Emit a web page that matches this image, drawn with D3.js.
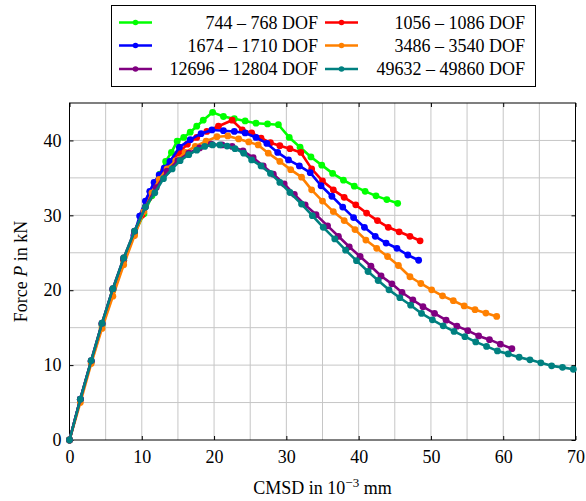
<!DOCTYPE html>
<html>
<head>
<meta charset="utf-8">
<script src="https://cdn.jsdelivr.net/npm/d3@7"></script>
<style>
  body { margin: 0; background: #fff; }
  svg text { font-family: "Liberation Serif", "DejaVu Serif", "Times New Roman", serif; fill: #000; }
</style>
</head>
<body>
<div id="chart"></div>
<script>
// series: [CMSD in 1e-3 mm, force in kN]
const dof744 = [[0,0],[1.5,5.4],[3,10.4],[4.5,15.3],[6,20],[7.5,24],[9,27.6],[10.3,30.2],[11.4,32.6],[12.5,35.5],[13.3,37.2],[14.1,38.4],[14.9,39.9],[15.8,40.4],[16.7,41.1],[17.6,41.9],[18.5,42.7],[19.8,43.75],[21.3,43.2],[22.8,42.9],[24.3,42.6],[25.8,42.3],[27.4,42.2],[28.9,42.1],[30.4,40.4],[31.9,39.1],[33.4,37.8],[34.9,36.7],[36.4,35.6],[37.9,34.7],[39.4,33.9],[40.9,33.2],[42.4,32.6],[43.9,32.1],[45.4,31.6]];
const dof1056 = [[0,0],[1.5,5.45],[3,10.5],[4.5,15.5],[6,20.1],[7.5,24],[9,27.8],[10,30],[11,32.3],[12,34.2],[13,35.9],[14,37.2],[15.1,38.3],[16.3,39.5],[17.6,40.4],[19,41.2],[20.6,41.9],[22.5,42.7],[23.9,41.4],[25.2,41],[26.5,40.3],[27.8,39.7],[29.1,39.3],[30.5,38.9],[32,38.4],[33.5,36.2],[35,34.6],[36.5,33.4],[38,32.4],[39.6,31.4],[41.1,30.3],[42.6,29.3],[44.1,28.4],[45.6,27.8],[47.1,27.2],[48.5,26.6]];
const dof1674 = [[0,0],[1.5,5.45],[3,10.5],[4.5,15.5],[6,20.1],[7.5,24.2],[8.9,27.3],[9.7,29.9],[10.5,31.9],[11.1,33.2],[11.7,34.4],[12.4,35.4],[13.1,36.3],[13.9,37.2],[15.2,39.1],[16.7,40.1],[18.2,40.9],[19.7,41.4],[21.3,41.3],[22.8,41.2],[24.3,41],[25.8,40.4],[27.3,39.6],[28.8,38.4],[30.3,37.4],[31.8,36.6],[33.3,35.7],[34.8,33.95],[36.3,32.55],[37.8,31.1],[39.3,29.7],[40.8,28.4],[42.3,27.2],[43.8,26.3],[45.3,25.6],[46.8,24.7],[48.3,24]];
const dof3486 = [[0,0],[1.5,5],[3,10.2],[4.5,14.9],[6,19.2],[7.5,23.4],[9,27.3],[10.3,30.5],[11.4,33],[12.4,34.8],[13.5,36.2],[14.7,37.3],[16,38.4],[17.4,39.2],[18.9,39.9],[20.4,40.5],[21.9,40.6],[23.4,40.2],[24.8,39.8],[26.1,39.4],[27.5,38.3],[29.1,37.2],[30.6,36.1],[32.1,35.1],[33.5,33.4],[35,31.9],[36.5,30.5],[38,29.3],[39.5,28.1],[41,26.7],[42.5,25.6],[44,24.5],[45.5,23.3],[47.1,21.8],[48.6,20.9],[50.1,20.05],[51.6,19.25],[53.1,18.6],[54.6,17.9],[56.1,17.4],[57.6,16.95],[59.1,16.5]];
const dof12696 = [[0,0],[1.5,5.45],[3,10.6],[4.5,15.6],[6,20.2],[7.5,24.3],[9,27.9],[10.5,31.1],[12,33.7],[13.5,35.9],[15,37.3],[16.5,38.3],[18,39],[19.6,39.5],[21.1,39.4],[22.5,39.2],[24,38.6],[25.4,37.7],[26.8,36.6],[28.2,35.5],[29.7,34.2],[31.1,32.8],[32.6,31.4],[34.1,30.1],[35.7,28.6],[37.2,27.2],[38.7,25.8],[40.2,24.5],[41.7,23.2],[43.1,21.9],[44.6,20.85],[46,19.7],[47.5,18.7],[48.9,17.8],[50.5,16.9],[52.1,16],[53.6,15.2],[55.1,14.6],[56.6,13.9],[58.1,13.4],[59.6,12.8],[61.2,12.2]];
const dof49632 = [[0,0],[1.5,5.45],[3,10.6],[4.5,15.6],[6,20.2],[7.5,24.3],[9,27.9],[10.5,31.1],[11.8,33],[13,34.9],[14.2,36.2],[15.3,37.3],[16.5,38.1],[17.6,38.7],[18.7,39.2],[19.8,39.4],[20.8,39.4],[21.8,39.25],[22.9,38.9],[24.1,38.3],[25.2,37.4],[26.5,36.6],[27.8,35.6],[29.1,34.4],[30.5,33.05],[32.1,31.5],[33.6,29.95],[35.1,28.4],[36.7,26.85],[38.2,25.35],[39.7,23.95],[41.3,22.5],[42.7,21.3],[44.2,20.05],[45.7,19],[47.2,18],[48.7,16.9],[50.2,16.05],[51.7,15.25],[53.2,14.5],[54.7,13.8],[56.2,13.1],[57.7,12.5],[59.2,11.9],[60.7,11.5],[62.2,11.05],[63.7,10.7],[65.2,10.3],[66.7,9.9],[68.2,9.7],[69.7,9.45]];

const seriesLabels = ["744 \u2013 768 DOF", "1056 \u2013 1086 DOF", "1674 \u2013 1710 DOF",
  "3486 \u2013 3540 DOF", "12696 \u2013 12804 DOF", "49632 \u2013 49860 DOF"];
const seriesData = [dof744, dof1056, dof1674, dof3486, dof12696, dof49632];
const colors = ["#00ff00", "#ff0000", "#0000ff", "#ff8000", "#800080", "#008080"];
const xTicks = [0, 10, 20, 30, 40, 50, 60, 70];
const yTicks = [0, 10, 20, 30, 40];

const W = 586, H = 501;
const FONT = "'Liberation Serif', 'DejaVu Serif', serif";
const FS = "18px";
const margin = { top: 103, right: 10.5, bottom: 61, left: 69.5 };
const width = W - margin.left - margin.right,
  height = H - margin.top - margin.bottom;

const svg = d3.select("#chart").append("svg")
  .attr("width", W)
  .attr("height", H)
  .style("font-family", FONT);

const chart = svg.append("g")
  .attr("transform", "translate(" + margin.left + "," + margin.top + ")");

const x = d3.scaleLinear().domain([0, 70]).range([0, width]);
const y = d3.scaleLinear().domain([0, 45]).range([height, 0]);

// grid every 5 units
const gridX = d3.range(5, 70, 5), gridY = d3.range(5, 45, 5);
chart.append("g").selectAll("line").data(gridX).enter().append("line")
  .attr("x1", d => x(d)).attr("x2", d => x(d))
  .attr("y1", 0).attr("y2", height)
  .attr("stroke", "#c6c6c6").attr("stroke-width", 1);
chart.append("g").selectAll("line").data(gridY).enter().append("line")
  .attr("y1", d => y(d)).attr("y2", d => y(d))
  .attr("x1", 0).attr("x2", width)
  .attr("stroke", "#c6c6c6").attr("stroke-width", 1);

// axes, ticks inside
function styleTicks(g) {
  g.select(".domain").remove();
  g.attr("font-family", null).attr("font-size", null);
  g.selectAll("text").style("font-family", FONT).style("font-size", FS);
}
chart.append("g")
  .attr("transform", "translate(0," + height + ")")
  .call(d3.axisBottom(x).tickValues(xTicks).tickSizeInner(-4).tickSizeOuter(0).tickPadding(10))
  .call(styleTicks);
chart.append("g")
  .call(d3.axisLeft(y).tickValues(yTicks).tickSizeInner(-4).tickSizeOuter(0).tickPadding(8))
  .call(styleTicks);
chart.append("g")
  .call(d3.axisTop(x).tickValues(xTicks).tickSizeInner(-4).tickSizeOuter(0).tickFormat(""))
  .call(styleTicks);
chart.append("g")
  .attr("transform", "translate(" + width + ",0)")
  .call(d3.axisRight(y).tickValues(yTicks).tickSizeInner(-4).tickSizeOuter(0).tickFormat(""))
  .call(styleTicks);

chart.append("rect")
  .attr("width", width).attr("height", height)
  .attr("fill", "none").attr("stroke", "#000").attr("stroke-width", 1);

// lines with markers
const line = d3.line().x(d => x(d[0])).y(d => y(d[1]));
seriesData.forEach(function (s, i) {
  chart.append("path")
    .datum(s)
    .attr("fill", "none")
    .attr("stroke", colors[i])
    .attr("stroke-width", 2.6)
    .attr("stroke-linejoin", "round")
    .attr("d", line);
  chart.append("g").selectAll("circle")
    .data(s).enter().append("circle")
    .attr("cx", d => x(d[0]))
    .attr("cy", d => y(d[1]))
    .attr("r", 3.4)
    .attr("fill", colors[i]);
});

// axis labels
const xl = svg.append("text")
  .attr("x", margin.left + width / 2)
  .attr("y", 494)
  .attr("text-anchor", "middle")
  .style("font-size", FS);
xl.append("tspan").text("CMSD in 10");
xl.append("tspan").attr("dy", -7).style("font-size", "13px").text("\u22123");
xl.append("tspan").attr("dy", 7).text(" mm");

const yl = svg.append("text")
  .attr("transform", "translate(27," + (margin.top + height / 2) + ") rotate(-90)")
  .attr("text-anchor", "middle")
  .style("font-size", FS);
yl.append("tspan").text("Force ");
yl.append("tspan").style("font-style", "italic").text("P");
yl.append("tspan").text(" in kN");

// legend
const legend = svg.append("g");
legend.append("rect")
  .attr("x", 111.5).attr("y", 5.5)
  .attr("width", 424).attr("height", 81)
  .attr("fill", "#fff").attr("stroke", "#000").attr("stroke-width", 1);
const rowY = [22.5, 45.5, 69];
const colX = [119, 325], colTextEnd = [318, 525];
seriesLabels.forEach(function (lab, i) {
  const r = Math.floor(i / 2), c = i % 2;
  const ly = rowY[r], lx = colX[c];
  legend.append("line")
    .attr("x1", lx).attr("x2", lx + 33)
    .attr("y1", ly).attr("y2", ly)
    .attr("stroke", colors[i]).attr("stroke-width", 2.6);
  legend.append("circle")
    .attr("cx", lx + 16.5).attr("cy", ly).attr("r", 2.8)
    .attr("fill", colors[i]);
  legend.append("text")
    .attr("x", colTextEnd[c]).attr("y", ly + 6)
    .attr("text-anchor", "end")
    .style("font-size", FS)
    .text(lab);
});
</script>
</body>
</html>
